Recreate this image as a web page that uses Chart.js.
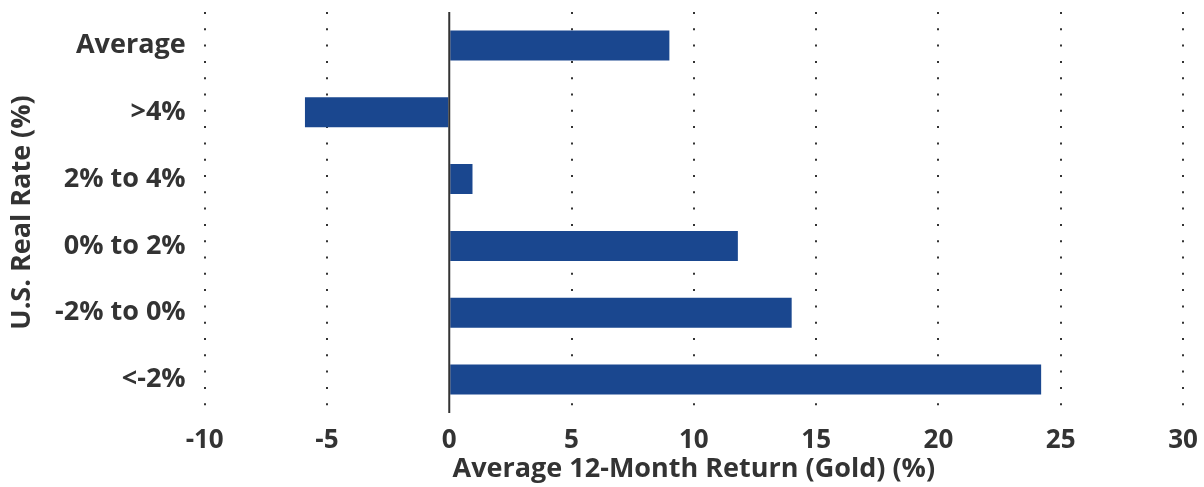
<!DOCTYPE html>
<html>
<head>
<meta charset="utf-8">
<script src="https://cdn.jsdelivr.net/npm/chart.js@4"></script>
<style>
    html, body { margin: 0; padding: 0; background: #fff; }
    #wrap { width: 1204px; height: 487px; }
</style>
</head>
<body>
<div id="wrap"><canvas id="chart"></canvas></div>
<script>
const categories = ["Average", ">4%", "2% to 4%", "0% to 2%", "-2% to 0%", "<-2%"];
const returns = [9.0, -5.9, 0.95, 11.8, 14.0, 24.2];
const xTicks = [-10, -5, 0, 5, 10, 15, 20, 25, 30];

const textColor = "#333333";
const barColor = "#1a478f";

// Solid line at zero, the other grid lines are dotted
const zeroLine = {
    id: "zeroLine",
    afterDatasetsDraw(chart) {
        const x = chart.scales.x.getPixelForValue(0);
        const ctx = chart.ctx;
        ctx.save();
        ctx.strokeStyle = "#333333";
        ctx.lineWidth = 2;
        ctx.beginPath();
        ctx.moveTo(x, chart.chartArea.top);
        ctx.lineTo(x, chart.chartArea.bottom);
        ctx.stroke();
        ctx.restore();
    }
};

new Chart(document.getElementById("chart"), {
    type: "bar",
    data: {
        labels: categories,
        datasets: [{
            label: "Average 12-Month Return (Gold) (%)",
            data: returns,
            backgroundColor: barColor,
            borderWidth: 0,
            categoryPercentage: 1,
            barPercentage: 0.45
        }]
    },
    options: {
        indexAxis: "y",
        responsive: true,
        maintainAspectRatio: false,
        animation: false,
        layout: {
            padding: { top: 12, right: 21, bottom: 4, left: 9 }
        },
        plugins: {
            legend: { display: false },
            tooltip: { enabled: false }
        },
        scales: {
            x: {
                min: -10,
                max: 30,
                afterBuildTicks: (scale) => {
                    scale.ticks = xTicks.map(v => ({ value: v }));
                },
                afterFit: (scale) => {
                    scale.paddingRight = 0;
                },
                ticks: {
                    color: textColor,
                    font: { family: "Open Sans", size: 26, weight: "bold", lineHeight: 1 },
                    padding: 15,
                    maxRotation: 0
                },
                grid: {
                    color: (c) => c.tick && c.tick.value === 0 ? "rgba(0,0,0,0)" : "#333333",
                    lineWidth: 2,
                    drawTicks: false
                },
                border: { display: false, dash: [2, 14.3] },
                title: {
                    display: true,
                    text: "Average 12-Month Return (Gold) (%)",
                    color: textColor,
                    font: { family: "Open Sans", size: 27, weight: "bold", lineHeight: 1 },
                    padding: { top: -13, bottom: 0 }
                }
            },
            y: {
                afterFit: (scale) => {
                    scale.paddingTop = 0;
                    scale.paddingBottom = 0;
                },
                grid: { display: false, drawTicks: false },
                border: { display: false },
                ticks: {
                    color: textColor,
                    font: { family: "Open Sans", size: 27, weight: "bold", lineHeight: 1 },
                    padding: 19
                },
                title: {
                    display: true,
                    text: "U.S. Real Rate (%)",
                    color: textColor,
                    font: { family: "Open Sans", size: 27, weight: "bold", lineHeight: 1 },
                    padding: { top: 0, bottom: 0 }
                }
            }
        }
    },
    plugins: [zeroLine]
});
</script>
</body>
</html>
